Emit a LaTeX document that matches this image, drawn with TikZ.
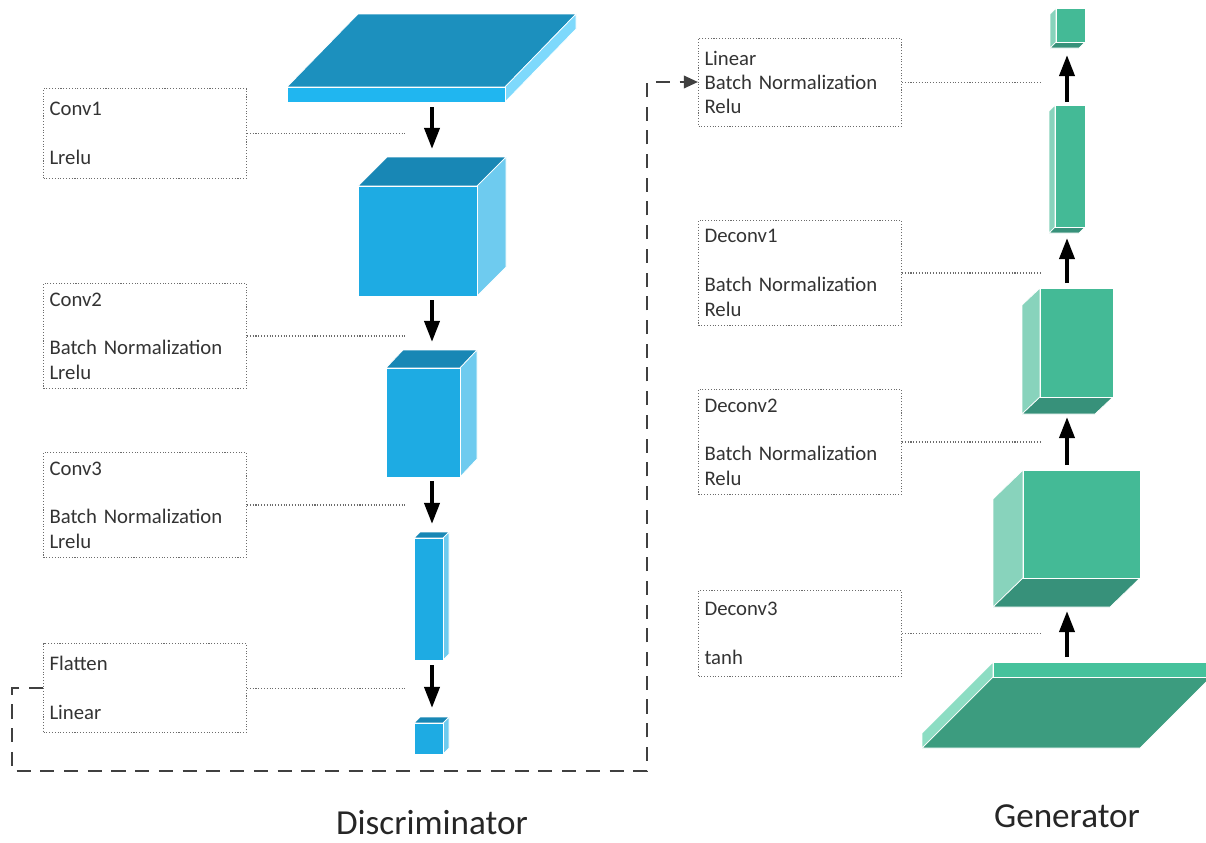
\documentclass[tikz,border=0pt]{standalone}
\usepackage{fontspec}
\setmainfont{Carlito}
\usepackage{tikz}
\usetikzlibrary{arrows.meta}

\definecolor{dfront}{HTML}{1EABE3}
\definecolor{dtop}{HTML}{1887B5}
\definecolor{dside}{HTML}{6ECBEF}
\definecolor{pfront}{HTML}{20B6F0}
\definecolor{ptop}{HTML}{1C90BE}
\definecolor{pside}{HTML}{7ED9FC}
\definecolor{gfront}{HTML}{44BA96}
\definecolor{gside}{HTML}{88D3BC}
\definecolor{gbottom}{HTML}{37917A}
\definecolor{qfront}{HTML}{46C29C}
\definecolor{qside}{HTML}{8CDDC3}
\definecolor{qbottom}{HTML}{3C9C7F}

% cuboid with its depth going up and to the right: front, top, side, x1, y1, x2, y2, dx, dy
\newcommand{\upcuboid}[9]{%
  \filldraw[face,fill=#2] (#4,#5) -- ++(#8,-#9) -- (#6+#8,#5-#9) -- (#6,#5) -- cycle;
  \filldraw[face,fill=#3] (#6,#5) -- ++(#8,-#9) -- (#6+#8,#7-#9) -- (#6,#7) -- cycle;
  \filldraw[face,fill=#1] (#4,#5) rectangle (#6,#7);
}
% cuboid with its depth going down and to the left: front, side, bottom, x1, y1, x2, y2, dx, dy
\newcommand{\downcuboid}[9]{%
  \filldraw[face,fill=#2] (#4,#5) -- ++(-#8,#9) -- (#4-#8,#7+#9) -- (#4,#7) -- cycle;
  \filldraw[face,fill=#3] (#4,#7) -- ++(-#8,#9) -- (#6-#8,#7+#9) -- (#6,#7) -- cycle;
  \filldraw[face,fill=#1] (#4,#5) rectangle (#6,#7);
}

\begin{document}
\begin{tikzpicture}[x=0.02cm, y=-0.02cm,
  face/.style={draw=white, line width=0.4pt},
  layer/.style={draw=gray!85!black, densely dotted, line width=0.6pt, anchor=north west,
    align=left, text width=3.82cm, inner xsep=0.12cm, inner ysep=0pt, text=black!80,
    font=\fontsize{11.8}{13.9}\selectfont},
  leader/.style={densely dotted, gray!85!black, line width=0.6pt},
  flow/.style={line width=2.3pt, -{Triangle[length=12pt,width=8.5pt]}},
  feedback/.style={black!75, line width=1.4pt, dash pattern=on 8pt off 5.5pt,
    -{Triangle[length=8pt,width=7pt]}},
  caption/.style={font=\fontsize{20}{24}\selectfont, text=black!85, inner sep=0pt}]
\useasboundingbox (0,0) rectangle (1206,842);

% discriminator
\upcuboid{pfront}{ptop}{pside}{287}{87}{505}{102}{71}{73}
\upcuboid{dfront}{dtop}{dside}{358}{186}{477}{296}{29}{29}
\upcuboid{dfront}{dtop}{dside}{386}{368}{460}{477}{17}{18}
\upcuboid{dfront}{dtop}{dside}{414}{538}{443}{660}{6}{6}
\upcuboid{dfront}{dtop}{dside}{414}{723}{443}{754}{6}{6}

\foreach \n/\ya/\yb in {1/107/149, 2/300/342, 3/481/524, 4/665/708}{
  \coordinate (da\n) at (432,\ya);
  \coordinate (db\n) at (432,\yb);
  \draw[flow] (da\n) -- (db\n);
}

\node[layer, minimum height=1.8cm] (conv1) at (43,88) {Conv1\\[\baselineskip]Lrelu};
\node[layer, minimum height=2.1cm] (conv2) at (43,283) {Conv2\\[\baselineskip]Batch Normalization\\Lrelu};
\node[layer, minimum height=2.1cm] (conv3) at (43,452) {Conv3\\[\baselineskip]Batch Normalization\\Lrelu};
\node[layer, minimum height=1.78cm] (flat) at (43,643) {Flatten\\[\baselineskip]Linear};

\coordinate (dl) at (405,0);
\foreach \b in {conv1, conv2, conv3, flat}
  \draw[leader] (\b.east) -- (\b.east -| dl);

% generator
\downcuboid{qfront}{qside}{qbottom}{993}{662}{1211}{677}{71}{71}
\downcuboid{gfront}{gside}{gbottom}{1023}{470}{1140}{578}{30}{29}
\downcuboid{gfront}{gside}{gbottom}{1040}{288}{1113}{397}{18}{17}
\downcuboid{gfront}{gside}{gbottom}{1055}{105}{1085}{227}{6}{6}
\downcuboid{gfront}{gside}{gbottom}{1056}{8}{1085}{42}{6}{6}

\foreach \n/\ya/\yb in {1/102/55, 2/283/238, 3/465/417, 4/657/611}{
  \coordinate (ga\n) at (1067,\ya);
  \coordinate (gb\n) at (1067,\yb);
  \draw[flow] (ga\n) -- (gb\n);
}

\node[layer, minimum height=1.76cm] (lin) at (698,38) {Linear\\Batch Normalization\\Relu};
\node[layer, minimum height=2.1cm] (dec1) at (698,220) {Deconv1\\[\baselineskip]Batch Normalization\\Relu};
\node[layer, minimum height=2.1cm] (dec2) at (698,389) {Deconv2\\[\baselineskip]Batch Normalization\\Relu};
\node[layer, minimum height=1.72cm] (dec3) at (698,590) {Deconv3\\[\baselineskip]tanh};

\coordinate (gl) at (1040,0);
\foreach \b in {lin, dec1, dec2, dec3}
  \draw[leader] (\b.east) -- (\b.east -| gl);

% from the discriminator back to the generator
\coordinate (fb1) at (12,771);
\coordinate (fb2) at (647,82);
\draw[feedback] (flat.west) -| (fb1) -| (fb2) -- (lin.west |- fb2);

\node[caption] (dname) at (432,823) {Discriminator};
\node[caption] (gname) at (1067,816) {Generator};
\end{tikzpicture}
\end{document}
